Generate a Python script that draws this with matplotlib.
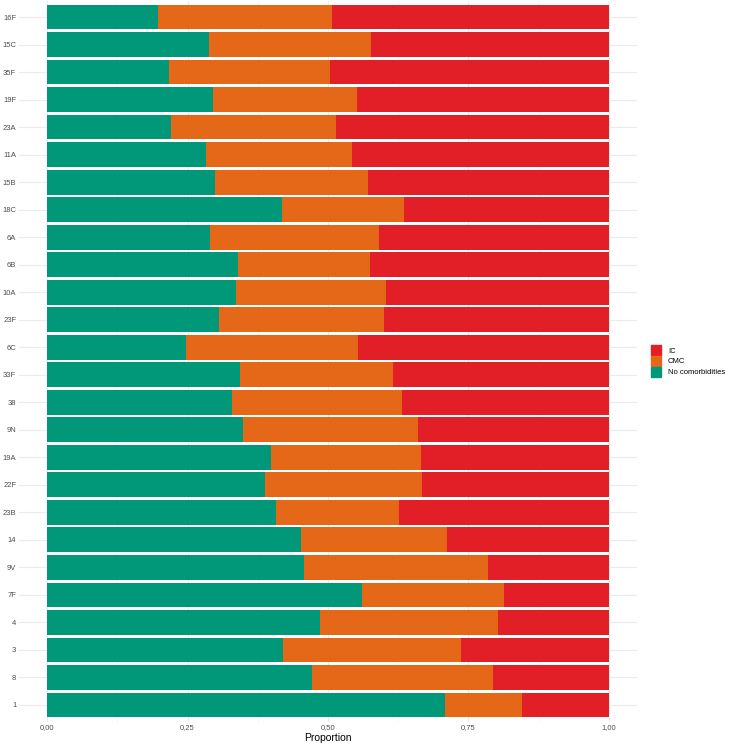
import matplotlib
matplotlib.use("Agg")
import matplotlib.pyplot as plt
from matplotlib.patches import Patch
from matplotlib.ticker import MultipleLocator

# serotypes, top to bottom as in the figure
serotypes = ["16F", "15C", "35F", "19F", "23A", "11A", "15B", "18C", "6A", "6B",
             "10A", "23F", "6C", "33F", "38", "9N", "19A", "22F", "23B", "14",
             "9V", "7F", "4", "3", "8", "1"]

no_comorb = [0.197, 0.289, 0.217, 0.295, 0.221, 0.283, 0.298, 0.419, 0.290, 0.339,
             0.336, 0.306, 0.247, 0.344, 0.329, 0.349, 0.398, 0.387, 0.408, 0.452,
             0.457, 0.560, 0.486, 0.420, 0.471, 0.709]
cmc = [0.310, 0.288, 0.287, 0.257, 0.294, 0.260, 0.273, 0.217, 0.301, 0.235,
       0.267, 0.293, 0.307, 0.272, 0.302, 0.311, 0.268, 0.281, 0.219, 0.259,
       0.328, 0.253, 0.317, 0.317, 0.323, 0.136]
ic = [0.493, 0.423, 0.496, 0.448, 0.485, 0.457, 0.429, 0.364, 0.409, 0.426,
      0.397, 0.401, 0.446, 0.384, 0.369, 0.340, 0.334, 0.332, 0.373, 0.289,
      0.215, 0.187, 0.197, 0.263, 0.206, 0.155]

x_ticks = [0, 0.25, 0.5, 0.75, 1.0]
x_ticklabels = ["0,00", "0,25", "0,50", "0,75", "1,00"]

c_green = "#009878"
c_orange = "#E46817"
c_red = "#E21F26"

plt.rcParams["font.family"] = ["Liberation Sans", "DejaVu Sans"]

fig = plt.figure(figsize=(7.29, 7.46), dpi=100)
ax = fig.add_axes([19 / 729, 1 - 721.5 / 746, (637 - 19) / 729, 721 / 746])

n = len(serotypes)
ypos = [n - 1 - i for i in range(n)]
left2 = [a + b for a, b in zip(no_comorb, cmc)]

ax.barh(ypos, no_comorb, height=0.9, color=c_green, zorder=2)
ax.barh(ypos, cmc, left=no_comorb, height=0.9, color=c_orange, zorder=2)
ax.barh(ypos, ic, left=left2, height=0.9, color=c_red, zorder=2)

ax.set_xlim(-0.05, 1.05)
ax.set_ylim(-0.6, n - 1 + 0.6)
ax.set_yticks(ypos)
ax.set_yticklabels(serotypes)
ax.set_xticks(x_ticks)
ax.set_xticklabels(x_ticklabels)
ax.xaxis.set_minor_locator(MultipleLocator(0.125))
ax.tick_params(axis="both", length=0, labelsize=5.5, labelcolor="#4D4D4D", pad=2)
ax.tick_params(axis="x", which="minor", length=0)
ax.grid(True, which="major", color="#EBEBEB", linewidth=0.8, zorder=0)
ax.grid(True, which="minor", axis="x", color="#F2F2F2", linewidth=0.5, zorder=0)
ax.set_axisbelow(True)
for s in ax.spines.values():
    s.set_visible(False)
ax.set_xlabel("Proportion", fontsize=7.5, labelpad=1)

handles = [Patch(color=c_red), Patch(color=c_orange), Patch(color=c_green)]
fig.legend(handles, ["IC", "CMC", "No comorbidities"], loc="center left",
           bbox_to_anchor=(648 / 729, 1 - 361 / 746), frameon=False,
           fontsize=5.5, handlelength=1.3, handleheight=1.75,
           handletextpad=0.9, labelspacing=0.05, borderaxespad=0)

fig.savefig("out.png", dpi=100)
